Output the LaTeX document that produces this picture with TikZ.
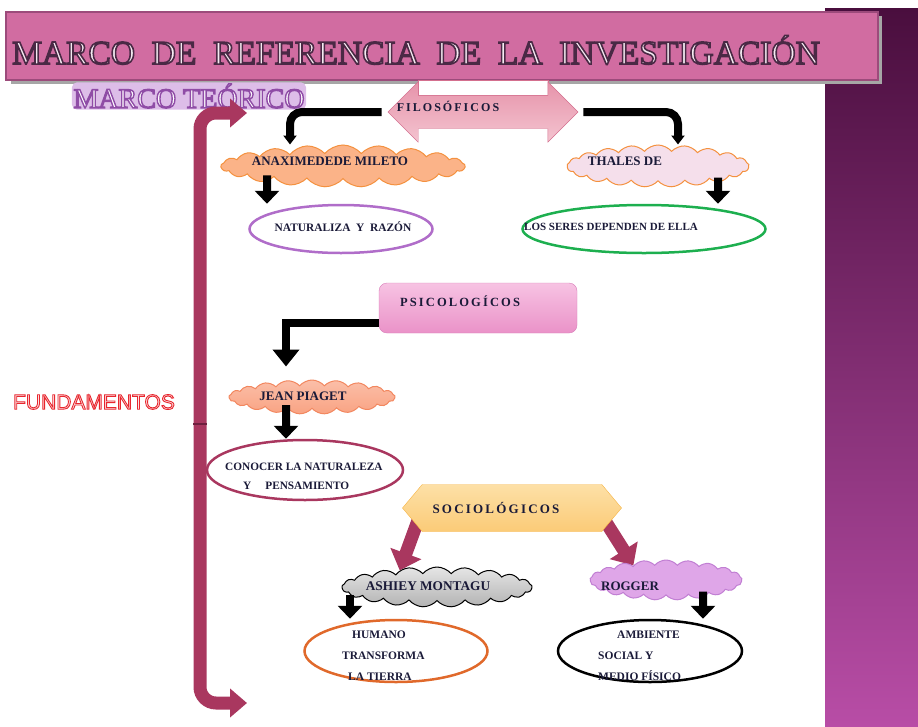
\documentclass[tikz,border=0pt]{standalone}
\usepackage{fontspec}
\setmainfont{Liberation Serif}
\newfontfamily\ancha[LetterSpace=17]{Liberation Serif}
\newfontfamily\sansfam{Liberation Sans}
\usetikzlibrary{shapes.geometric,shapes.symbols,shapes.arrows,arrows.meta,backgrounds}

% texto con relleno y trazo (contorno)
\newcommand\contorno[3]{\special{pdf:literal direct 2 Tr #2 w #1 RG}#3\special{pdf:literal direct 0 Tr}}

\definecolor{panelarriba}{HTML}{4A0E3E}
\definecolor{panelabajo}{HTML}{B84DA6}
\definecolor{banner}{HTML}{D16CA1}
\definecolor{bannerborde}{HTML}{9C4B7B}
\definecolor{titrelleno}{HTML}{F4ECF2}
\definecolor{lavanda}{HTML}{DDBDE8}
\definecolor{vino}{HTML}{A9375F}
\definecolor{vinooscuro}{HTML}{6E1F3E}
\definecolor{rojoclaro}{HTML}{FBE3E4}
\definecolor{rosa1}{HTML}{E693AA}
\definecolor{rosa2}{HTML}{F4C4D0}
\definecolor{rosaborde}{HTML}{D4708F}
\definecolor{naranja}{HTML}{FBB388}
\definecolor{naranjaborde}{HTML}{F4913F}
\definecolor{rosapalido}{HTML}{F5DFEB}
\definecolor{morado}{HTML}{B06DC9}
\definecolor{verde}{HTML}{1DAF4F}
\definecolor{psico1}{HTML}{F7C3E3}
\definecolor{psico2}{HTML}{EA92C8}
\definecolor{psicoborde}{HTML}{D87DB9}
\definecolor{salmon}{HTML}{F9A383}
\definecolor{salmonborde}{HTML}{F2875F}
\definecolor{amarillo1}{HTML}{FDE0A6}
\definecolor{amarillo2}{HTML}{FBCB78}
\definecolor{amarilloborde}{HTML}{F6B444}
\definecolor{lila}{HTML}{DFA6E8}
\definecolor{lilaborde}{HTML}{C17FD3}
\definecolor{naranjaoscuro}{HTML}{E0692B}
\definecolor{tinta}{HTML}{1A1A38}

\begin{document}
\begin{tikzpicture}[x=1pt, y=-1pt,
            lbl/.style={font=\bfseries\fontsize{#1}{#1}\selectfont, text=tinta, inner sep=0pt}, lbl/.default=12,
            ancho/.style={font=\ancha\bfseries\fontsize{#1}{#1}\selectfont, text=tinta, inner sep=0pt},
            nube/.style={cloud, cloud puffs=21, cloud puff arc=100, cloud ignores aspect, draw=#1, line width=1pt, inner sep=0pt},
            ovalo/.style={ellipse, draw=#1, line width=2.5pt, inner sep=0pt},
            flecha/.style={line width=8pt, draw=black, -{Triangle[width=24pt,length=13pt]}},
            flechita/.style={line width=8pt, rounded corners=12pt, -{Triangle[width=13pt,length=9pt]}},
            flechavino/.style={line width=13pt, draw=vino, shorten <=-8pt, -{Triangle[width=32pt,length=18pt]}}]
            \useasboundingbox (0,0) rectangle (918,726);
            \shade[top color=panelarriba, bottom color=panelabajo] (825,8) rectangle (918,726);

            % cabecera
            \fill[black!35] (11,16) rectangle (882,84);
            \node[rectangle, draw=bannerborde, fill=banner, line width=1.5pt, minimum width=872pt, minimum height=68pt] (ban) at (442,46) {};
            \node[font=\fontsize{33.5}{34}\selectfont, text=titrelleno, inner sep=0pt] (tit) at (416,50)
                {\contorno{0.29 0.16 0.27}{1.6}{MARCO~~DE~~REFERENCIA~~DE~~LA~~INVESTIGACIÓN}};
            \node[font=\fontsize{28}{28}\selectfont, text=white, fill=lavanda, rounded corners=5pt, inner sep=1.5pt] (mteo) at (189,96)
                {\contorno{0.56 0.30 0.65}{1.4}{MARCO TEÓRICO}};

            % corchete
            \coordinate (ba) at (247,113);
            \coordinate (bb) at (247,703);
            \draw[line width=13pt, draw=vino, rounded corners=16pt, {Triangle[width=28pt,length=17pt]}-{Triangle[width=28pt,length=17pt]}] (ba) -| (200,703) -- (bb);
            \draw[vinooscuro, line width=1.5pt] (193,424) -- (207,424);
            \node[font=\sansfam\fontsize{21}{21}\selectfont, text=rojoclaro, inner sep=0pt] (fund) at (94,402)
                {\contorno{0.91 0.15 0.18}{0.9}{FUNDAMENTOS}};

            % filosoficos
            \draw[draw=rosaborde, fill=white] (418,80) rectangle (548,95);
            \node[double arrow, double arrow head extend=13.5pt, minimum height=190pt, minimum width=60pt, inner ysep=16.5pt,
                draw=rosaborde, top color=rosa1, bottom color=rosa2] (filo) at (483,112) {};
            \node[ancho=12] at (448,106) {FILOSÓFICOS};
            \node[nube=naranjaborde, fill=naranja, minimum width=244pt, minimum height=42pt] (anax) at (343,166) {};
            \node[lbl=13] at (330,161) {ANAXIMEDEDE MILETO};
            \node[nube=naranjaborde, fill=rosapalido, minimum width=182pt, minimum height=42pt] (thales) at (658,166) {};
            \node[lbl=13] at (625,161) {THALES DE};
            \node[ovalo=morado, minimum width=183pt, minimum height=48pt] (natu) at (341,229) {};
            \node[lbl=11.4] at (343,227) {NATURALIZA~~Y~~RAZÓN};
            \node[ovalo=verde, minimum width=243pt, minimum height=48pt] (seres) at (644,229) {};
            \node[lbl=11] at (611,227) {LOS SERES DEPENDEN DE ELLA};

            % psicologicos
            \node[rectangle, rounded corners=8pt, draw=psicoborde, top color=psico1, bottom color=psico2,
                minimum width=198pt, minimum height=50pt] (psico) at (478,308) {};
            \node[ancho=12.5] at (460,301) {PSICOLOGÍCOS};
            \node[nube=salmonborde, top color=salmon!70, bottom color=salmon, minimum width=166pt, minimum height=34pt] (piaget) at (312,397) {};
            \node[lbl=13] at (303,396) {JEAN PIAGET};
            \node[ovalo=vino, minimum width=196pt, minimum height=60pt] (conocer) at (305,470) {};
            \node[lbl, font=\bfseries\fontsize{11.3}{19}\selectfont, align=left, anchor=west] at (225,476)
                {CONOCER LA NATURALEZA\\\hspace*{18pt}Y\hspace{14pt}PENSAMIENTO};

            % sociologicos
            \node[signal, signal to=west and east, signal pointer angle=100, minimum width=219pt, minimum height=47pt, inner sep=0pt,
                draw=amarilloborde, top color=amarillo1, bottom color=amarillo2] (socio) at (512,508) {};
            \node[ancho=13] at (496,508) {SOCIOLÓGICOS};
            \node[nube=black, top color=gray!20, bottom color=gray!60, minimum width=190pt, minimum height=40pt] (ashiey) at (437,587) {};
            \node[lbl=13.3] at (428,586) {ASHIEY MONTAGU};
            \node[nube=lilaborde, fill=lila, minimum width=152pt, minimum height=40pt] (rogger) at (666,580) {};
            \node[lbl=13] at (630,586) {ROGGER};
            \node[ovalo=naranjaoscuro, minimum width=183pt, minimum height=62pt] (humano) at (396,651) {};
            \node[lbl, font=\bfseries\fontsize{11.5}{21}\selectfont, align=left, anchor=west] at (342,656)
                {\hspace*{10pt}HUMANO\\TRANSFORMA\\\hspace*{6pt}LA TIERRA};
            \node[ovalo=black, minimum width=184pt, minimum height=62pt] (ambiente) at (650,651) {};
            \node[lbl, font=\bfseries\fontsize{11.5}{21}\selectfont, align=left, anchor=west] at (598,656)
                {\hspace*{19pt}AMBIENTE\\SOCIAL Y\\MEDIO FÍSICO};

            \begin{scope}[on background layer]
                \draw[flechavino] (socio.190) -- (ashiey.156);
                \draw[flechavino] (socio.-10) -- (rogger.156);
            \end{scope}
            \draw[flechita] ([xshift=-6pt]filo.west) -| ([xshift=-53pt]anax.north);
            \draw[flechita] ([xshift=5pt]filo.east) -| ([xshift=20pt]thales.north);
            \draw[flecha] ([xshift=-76pt,yshift=4pt]anax.south) -- ([xshift=-74pt]natu.north);
            \draw[flecha] ([xshift=60pt,yshift=4pt]thales.south) -- ([xshift=74pt]seres.north);
            \draw[flecha, -{Triangle[width=26pt,length=17pt]}] ([yshift=-15pt]psico.west) -| ([xshift=-26pt,yshift=13pt]piaget.north);
            \draw[flecha] ([xshift=-26pt,yshift=4pt]piaget.south) -- ([xshift=-19pt]conocer.north);
            \draw[flecha] ([xshift=-87pt,yshift=6pt]ashiey.south) -- ([xshift=-46pt]humano.north);
            \draw[flecha] ([xshift=37pt,yshift=4pt]rogger.south) -- ([xshift=53pt]ambiente.north);
        \end{tikzpicture}
\end{document}
